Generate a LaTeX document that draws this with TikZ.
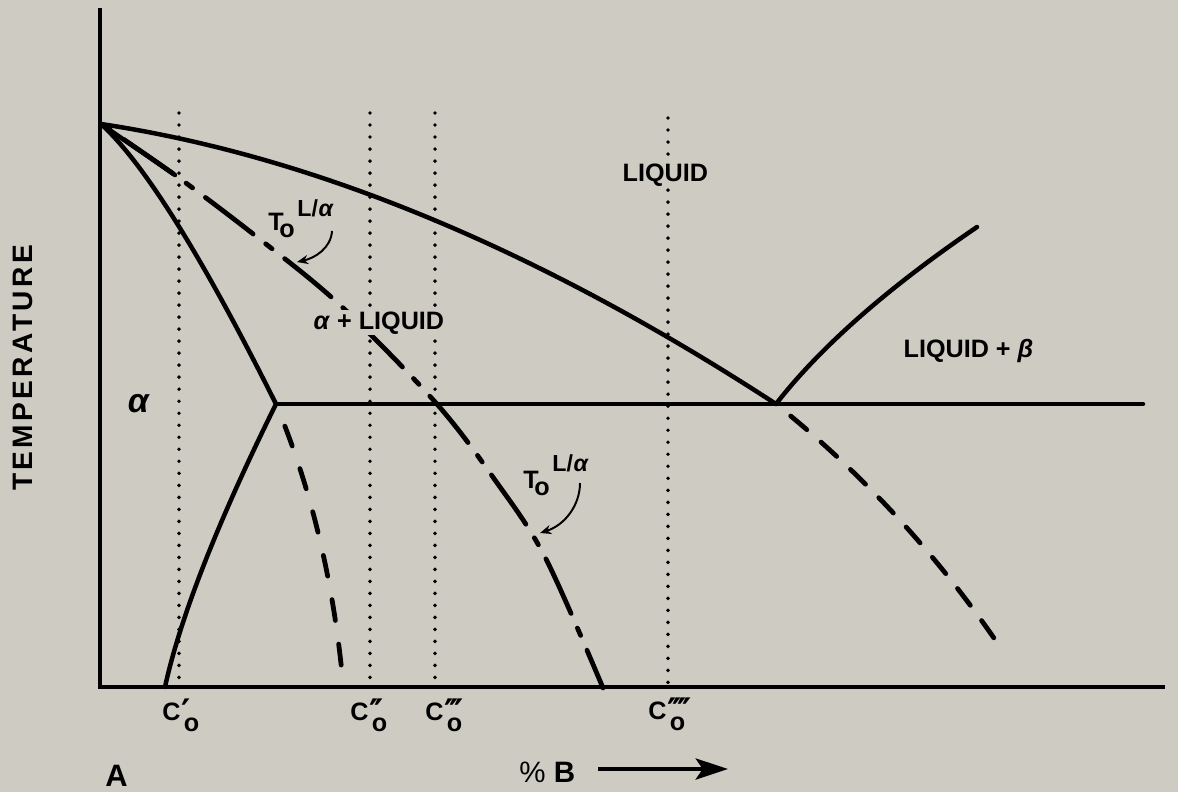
\documentclass[tikz,border=0pt]{standalone}
\usepackage{fontspec}
\setmainfont{Liberation Sans}
\newfontfamily\pf{DejaVu Sans}
\usetikzlibrary{arrows.meta,calc}
\definecolor{bg}{RGB}{206,203,195}
\newcommand\Cprime[1]{C\rlap{\kern0.4pt\pf\bfseries\fontsize{25}{25}\selectfont\raisebox{-3pt}{#1}}\kern2.4pt\raisebox{-8.5pt}{o}}
\newcommand\Tzero[1]{T\kern-3pt\raisebox{-5pt}{o}\kern1.8pt\raisebox{#1}{\fontsize{16.5}{16.5}\selectfont L/\kern0.5pt\textit{α}}}
\begin{document}
\begin{tikzpicture}[x=0.025cm,y=-0.025cm,
  curve/.style={line width=3.2pt,line cap=round},
  axis/.style={line width=2.2pt},
  dots/.style={line width=2.8pt,line cap=round,dash pattern=on 0pt off 8.54pt},
  dashP/.style={line width=3.4pt,line cap=round,dash pattern=on 15pt off 17pt,dash phase=15pt},
  dashR/.style={line width=3.4pt,line cap=round,dash pattern=on 15pt off 13.5pt,dash phase=15pt},
  dashT/.style={line width=3.4pt,line cap=round,dash pattern=on 42.7pt off 11.4pt on 5.7pt off 11.4pt,dash phase=51.6pt},
  lab/.style={font=\fontsize{17.9}{20}\selectfont\bfseries,inner sep=1pt},
  pointer/.style={line width=1.4pt,-{Stealth[length=8pt,width=6.5pt]}},
]
\fill[bg] (0,0) rectangle (1178,792);
\useasboundingbox (0,0) rectangle (1178,792);

% key points
\coordinate (Ytop) at (100,8);
\coordinate (O) at (100,687);
\coordinate (Xend) at (1165,687);
\coordinate (M) at (101,124);
\coordinate (P) at (276,404);
\coordinate (E) at (776,404);
\coordinate (Eend) at (1143,404);
\coordinate (Sv) at (165,687);
\coordinate (Pd) at (342,673);
\coordinate (Rd) at (996,641);
\coordinate (Rb) at (977,227);
\coordinate (T0a) at (175,175);

% dotted composition lines
\coordinate (d1t) at (179,113); \coordinate (d1b) at (179,684);
\coordinate (d2t) at (370,113); \coordinate (d2b) at (370,684);
\coordinate (d3t) at (435,113); \coordinate (d3b) at (435,684);
\coordinate (d4t) at (668,118); \coordinate (d4b) at (668,684);
\draw[dots] (d1t) -- (d1b);
\draw[dots] (d2t) -- (d2b);
\draw[dots] (d3t) -- (d3b);
\draw[dots] (d4t) -- (d4b);

% axes
\draw[axis] (Ytop) -- (O) -- (Xend);

% liquidus
\draw[curve] (M) .. controls ($(M)!0.667!(420,172)$) and ($(E)!0.667!(420,172)$) .. (E);
% solidus
\draw[curve] (M) .. controls ($(M)!0.667!(165,182)$) and ($(P)!0.667!(165,182)$) .. (P);
% solvus
\draw[curve] (P) .. controls ($(P)!0.667!(188,582)$) and ($(Sv)!0.667!(188,582)$) .. (Sv);
% eutectic
\draw[curve] (P) -- (Eend);
% beta liquidus
\draw[curve] (E) .. controls ($(E)!0.667!(842,319)$) and ($(Rb)!0.667!(842,319)$) .. (Rb);

% dashed extensions
\draw[dashP] (P) .. controls ($(P)!0.667!(327,526)$) and ($(Pd)!0.667!(327,526)$) .. (Pd);
\draw[dashR] (E) .. controls ($(E)!0.667!(902,505)$) and ($(Rd)!0.667!(902,505)$) .. (Rd);

% T0 line
\draw[curve] (M) -- (T0a);
\draw[dashT] plot[smooth,tension=0.55] coordinates {(101,124) (175,175) (257,237) (340,305) (436,403) (495,480) (545,557) (603,688)};

% labels
\node[lab,fill=bg,anchor=base west] (liq) at (621,181) {LIQUID};
\node[lab,fill=bg,anchor=base west] (aliq) at (312,329) {\textit{α} + LIQUID};
\node[lab,anchor=base west] (liqb) at (902,357) {LIQUID + \textit{β}};
\node[font=\fontsize{24}{24}\selectfont\bfseries,inner sep=0pt] (alpha) at (139,404) {\textit{α}};

\node[lab,anchor=base west,inner sep=0pt] (t1) at (268,230) {\Tzero{9.5pt}};
\node[lab,anchor=base west,inner sep=0pt] (t2) at (523,488) {\Tzero{12pt}};
\coordinate (a1s) at (332,231); \coordinate (a1e) at (297,262);
\coordinate (a2s) at (580,483); \coordinate (a2e) at (540,533);
\draw[pointer] (a1s) .. controls (331,248) and (315,258) .. (a1e);
\draw[pointer] (a2s) .. controls (580,505) and (565,525) .. (a2e);

\node[lab,anchor=base west,inner sep=0pt] (c1) at (162,720) {\Cprime{′}};
\node[lab,anchor=base west,inner sep=0pt] (c2) at (350,720) {\Cprime{′\kern-3pt′}};
\node[lab,anchor=base west,inner sep=0pt] (c3) at (425,720) {\Cprime{′\kern-3pt′\kern-3pt′}};
\node[lab,anchor=base west,inner sep=0pt] (c4) at (648,719) {\Cprime{′\kern-3pt′\kern-3pt′\kern-3pt′}};

\node[font=\fontsize{20}{22}\selectfont\bfseries\addfontfeatures{LetterSpace=12},rotate=90,inner sep=0pt] (temp) at (23,368) {TEMPERATURE};
\node[font=\fontsize{22}{24}\selectfont\bfseries,anchor=base west,inner sep=0pt] (A) at (105,786) {A};
\node[font=\fontsize{21}{24}\selectfont,anchor=base west,inner sep=0pt] (pct) at (519,782) {\%\kern6pt\bfseries B};
\coordinate (arS) at (598,769); \coordinate (arE) at (728,769);
\draw[line width=2.8pt,-{Stealth[length=23pt,width=15pt,inset=5pt]}] (arS) -- (arE);
\end{tikzpicture}
\end{document}
